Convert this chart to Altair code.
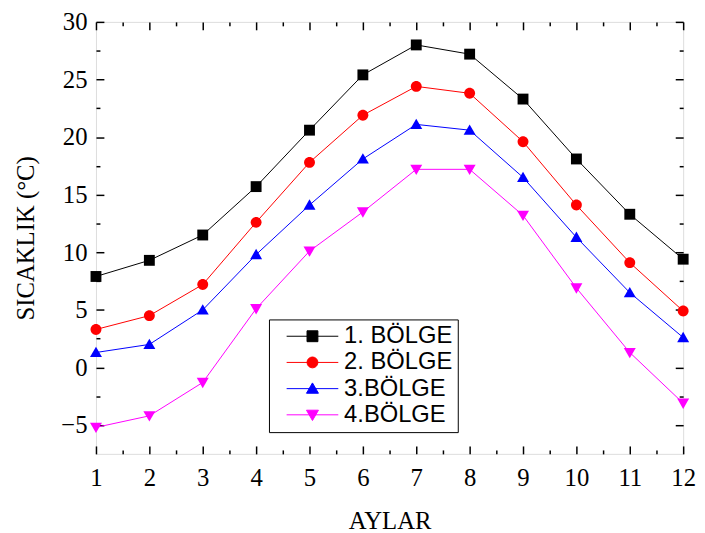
import altair as alt
import pandas as pd

months = list(range(1, 13))
series_names = ["1. BÖLGE", "2. BÖLGE", "3.BÖLGE", "4.BÖLGE"]
bolge1 = [7.9, 9.3, 11.5, 15.7, 20.6, 25.4, 28.0, 27.2, 23.3, 18.1, 13.3, 9.4]
bolge2 = [3.3, 4.5, 7.2, 12.6, 17.8, 21.9, 24.4, 23.8, 19.6, 14.1, 9.1, 4.9]
bolge3 = [1.3, 2.0, 5.0, 9.8, 14.1, 18.1, 21.1, 20.6, 16.5, 11.3, 6.5, 2.6]
bolge4 = [-5.2, -4.2, -1.3, 5.1, 10.1, 13.5, 17.2, 17.2, 13.2, 6.9, 1.3, -3.1]

colors = ["#000000", "#ff0000", "#0000ff", "#ff00ff"]
shapes = [
    "M-1,-1H1V1H-1Z",
    "M1,0A1,1,0,1,1,-1,0A1,1,0,1,1,1,0Z",
    "M0,-1.05L1.1,0.85H-1.1Z",
    "M0,1.05L1.1,-0.85H-1.1Z",
]
legend_line = " M-4.75,0H4.75"
legend_shapes = [s + legend_line for s in shapes]

x_major = months
x_minor = [m + 0.5 for m in months[:-1]]
y_major = [-5, 0, 5, 10, 15, 20, 25, 30]
y_minor = [-2.5, 2.5, 7.5, 12.5, 17.5, 22.5, 27.5]

rows = []
for name, vals in zip(series_names, [bolge1, bolge2, bolge3, bolge4]):
    for m, v in zip(months, vals):
        rows.append({"month": m, "value": v, "series": name})
df = pd.DataFrame(rows)

xs = alt.Scale(domain=[1, 12], nice=False, zero=False)
ys = alt.Scale(domain=[-7.5, 30], nice=False, zero=False)
cs = alt.Scale(domain=series_names, range=colors)
ss = alt.Scale(domain=series_names, range=shapes)
ss_leg = alt.Scale(domain=series_names, range=legend_shapes)

SERIF = "Liberation Serif"
MAJ = 8
MIN = 4

def ax(orient, values, size, labels=False, title=None, **kw):
    args = dict(orient=orient, values=values, tickSize=size, offset=-size,
                domain=False, grid=False, labels=labels, tickColor="black",
                tickWidth=1.5, labelFont=SERIF, labelFontSize=25,
                labelColor="black", labelFlush=False, labelOverlap=False)
    if title is not None:
        args.update(title=title, titleFont=SERIF, titleFontSize=25,
                    titleFontWeight="normal", titleColor="black")
    else:
        args.update(title=None)
    args.update(kw)
    return alt.Axis(**args)

legend = alt.Legend(
    title=None, orient="none", legendX=175, legendY=301,
    labelFont="Liberation Sans", labelFontSize=24, labelColor="black",
    symbolSize=121, symbolStrokeWidth=1, padding=5, rowPadding=2.5,
    symbolOffset=27, labelOffset=20,
    strokeColor="black", fillColor="white",
)

base = alt.Chart(df)

lines = base.mark_line(strokeWidth=1).encode(
    x=alt.X("month:Q", scale=xs, axis=ax("bottom", x_major, MAJ, labels=True, title="AYLAR",
                                          labelPadding=12, titlePadding=18)),
    y=alt.Y("value:Q", scale=ys, axis=ax("left", y_major, MAJ, labels=True, title="SICAKLIK (°C)",
                                          labelPadding=9, titlePadding=23)),
    color=alt.Color("series:N", scale=cs, legend=None),
)

points = base.mark_point(filled=True, size=121, opacity=1).encode(
    x=alt.X("month:Q", scale=xs, axis=ax("top", x_major, MAJ)),
    y=alt.Y("value:Q", scale=ys, axis=ax("right", y_major, MAJ)),
    color=alt.Color("series:N", scale=cs, legend=None),
    shape=alt.Shape("series:N", scale=ss, legend=None),
)

minor1 = base.mark_line(opacity=0).encode(
    x=alt.X("month:Q", scale=xs, axis=ax("bottom", x_minor, MIN)),
    y=alt.Y("value:Q", scale=ys, axis=ax("left", y_minor, MIN)),
    detail="series:N",
)
minor2 = base.mark_line(opacity=0).encode(
    x=alt.X("month:Q", scale=xs, axis=ax("top", x_minor, MIN)),
    y=alt.Y("value:Q", scale=ys, axis=ax("right", y_minor, MIN)),
    detail="series:N",
)

legend_layer = base.transform_filter("datum.value > 1000").mark_point(
    filled=True, opacity=1, strokeWidth=1
).encode(
    x=alt.X("month:Q", scale=xs, axis=None),
    y=alt.Y("value:Q", scale=ys, axis=None),
    color=alt.Color("series:N", scale=cs, legend=legend),
    stroke=alt.Stroke("series:N", scale=cs, legend=legend),
    shape=alt.Shape("series:N", scale=ss_leg, legend=legend),
)

chart = alt.layer(lines, points, minor1, minor2, legend_layer).resolve_axis(
    x="independent", y="independent"
).resolve_scale(
    shape="independent", color="independent", stroke="independent"
).properties(
    width=594, height=437,
    autosize=alt.AutoSizeParams(type="none"),
    padding={"left": 89, "top": 11, "right": 14, "bottom": 77},
).configure_view(stroke="black", strokeWidth=2).configure(background="white")

chart.save("out.html", embed_options={"renderer": "svg", "actions": False})
